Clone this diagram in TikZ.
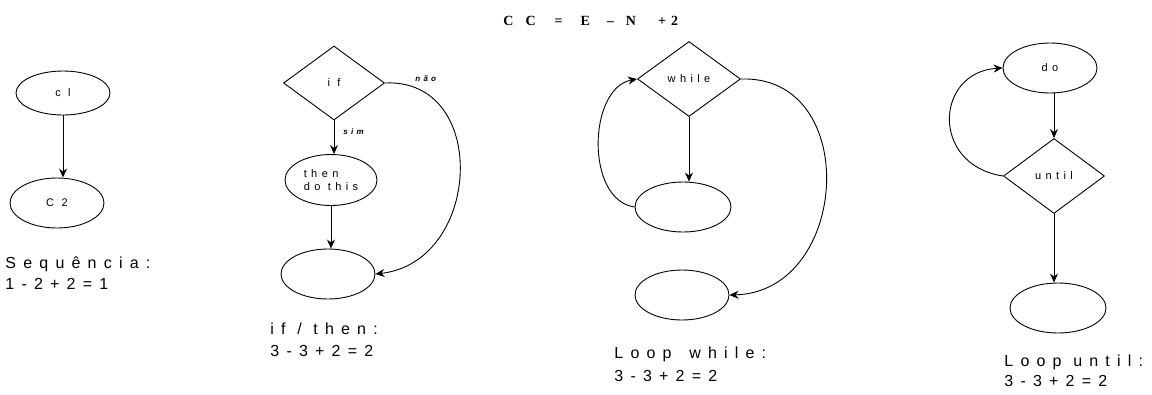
\documentclass[tikz,border=0pt]{standalone}
\usepackage{fontspec}
\setmainfont{Liberation Sans}
\newfontfamily\lab[LetterSpace=45]{Liberation Sans}
\newfontfamily\inlab[LetterSpace=40]{Liberation Sans}
\newfontfamily\ttl{Liberation Serif}
\usetikzlibrary{shapes.geometric,arrows.meta}
\begin{document}
\begin{tikzpicture}[x=1pt,y=-1pt,
  every path/.style={line width=0.9pt},
  ell/.style={draw,ellipse,inner sep=0pt,minimum width=94pt,minimum height=50pt,font=\inlab\fontsize{11}{13}\selectfont,align=left},
  dia/.style={draw,diamond,inner sep=0pt,minimum width=101pt,minimum height=75pt,font=\inlab\fontsize{11}{13}\selectfont},
  lbl/.style={anchor=base west,inner sep=0pt,font=\lab\fontsize{16}{20}\selectfont},
  tiny/.style={inner sep=0pt,font=\inlab\bfseries\itshape\fontsize{8}{9}\selectfont},
  arr/.style={-{Stealth[length=9pt,width=8pt]}}]
\useasboundingbox (0,0) rectangle (1152,394);

% title
\node[font=\ttl\bfseries\fontsize{14}{16}\selectfont,inner sep=0pt,anchor=base west] (title) at (503,25)
  {C\hspace{12pt}C\hspace{19pt}=\hspace{18pt}E\hspace{17pt}\textendash\hspace{12pt}N\hspace{22pt}+\hspace{5pt}2};

% sequence
\node[ell,minimum width=94pt,minimum height=44pt] (c1) at (63,93) {c l};
\node[ell] (c2) at (57,203) {C 2};
\draw[arr] (c1.south) -- (c1.south |- c2.north);
\node[lbl] (seq) at (5,268) {Sequência:};
\node[lbl] (seqf) at (5,289) {1-2+2=1};

% if / then
\node[dia,minimum height=74pt] (if) at (334,83) {i f};
\node[ell,minimum width=92pt,minimum height=51pt] (then) at (331,180) {then\\do this};
\node[ell] (e1) at (328,274) {};
\draw[arr] (if.south) -- (if.south |- then.north);
\draw[arr] (then.south) -- (then.south |- e1.north);
\draw[arr] (if.east) .. controls (490,78) and (482,262) .. (e1.east);
\node[tiny,anchor=west] (sim) at (343,132) {sim};
\node[tiny,anchor=west] (nao) at (415,79) {não};
\node[lbl] (ift) at (270,334) {if / then:};
\node[lbl] (iftf) at (270,356) {3-3+2=2};

% while
\node[dia,minimum width=103pt] (wh) at (689,79) {while};
\node[ell,minimum width=96pt] (body) at (683,207) {};
\node[ell] (wend) at (682,295) {};
\draw[arr] (wh.south) -- (wh.south |- body.north);
\draw[arr] (body.west) .. controls (585,200) and (588,88) .. (wh.west);
\draw[arr] (wh.east) .. controls (862,75) and (850,292) .. (wend.east);
\node[lbl] (lw) at (614,358) {Loop\hspace{6pt} while:};
\node[lbl] (lwf) at (614,381) {3-3+2=2};

% until
\node[ell] (do) at (1050,68) {do};
\node[dia] (un) at (1054,176) {until};
\node[ell,minimum width=96pt] (uend) at (1058,308) {};
\draw[arr] (un.north |- do.south) -- (un.north);
\draw[arr] (un.south) -- (un.south |- uend.north);
\draw[arr] (un.west) .. controls (930,165) and (935,72) .. (do.west);
\node[lbl] (lu) at (1004,366) {Loop until:};
\node[lbl] (luf) at (1004,386) {3-3+2=2};
\end{tikzpicture}
\end{document}
